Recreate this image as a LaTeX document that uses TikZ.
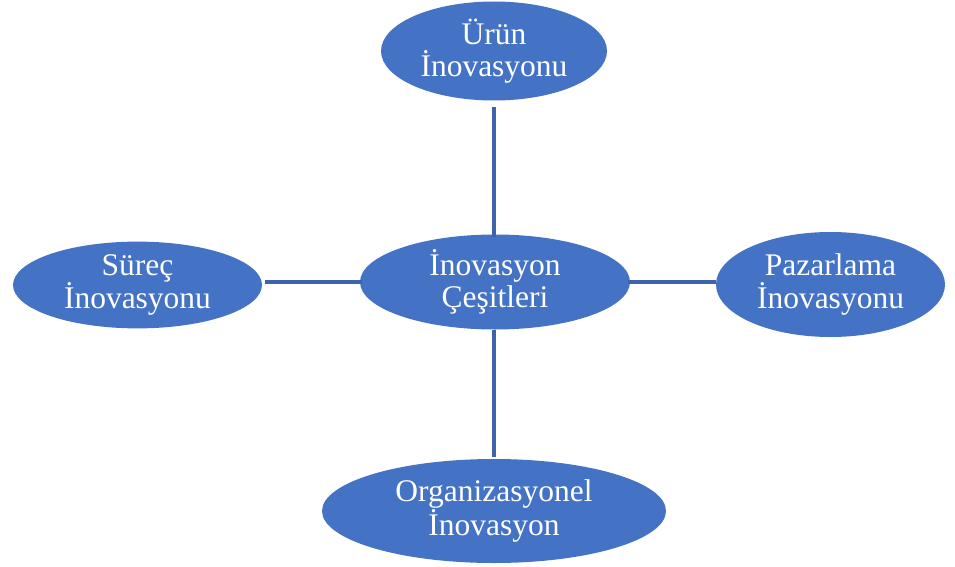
\documentclass[tikz,border=0pt]{standalone}
\usepackage{fontspec}
\setmainfont{Liberation Serif}
\usetikzlibrary{shapes.geometric}
\definecolor{ellfill}{HTML}{4472C4}
\definecolor{linkcol}{HTML}{3E63AC}
\begin{document}
\begin{tikzpicture}[x=1pt,y=-1pt,
  ell/.style={ellipse, fill=ellfill, draw=none, inner sep=0pt, text=white,
    align=center, font=\fontsize{31.5}{32.5}\selectfont},
  link/.style={draw=linkcol, line width=3.2pt}]
\useasboundingbox (0,0) rectangle (955,567);
\node[ell, minimum width=270pt, minimum height=95pt] (c) at (495,282) {İnovasyon\\Çeşitleri};
\node[ell, minimum width=226pt, minimum height=99pt] (t) at (494,51) {Ürün\\İnovasyonu};
\node[ell, minimum width=249pt, minimum height=74pt] (l) at (137.5,285) {Süreç\\İnovasyonu};
\node[ell, minimum width=229pt, minimum height=105pt] (r) at (830.5,284.5) {Pazarlama\\İnovasyonu};
\node[ell, minimum width=344pt, minimum height=104pt] (b) at (494,511) {Organizasyonel\\İnovasyon};
\draw[link, shorten <=-3pt, shorten >=6pt] (c.north -| t.south) -- (t.south);
\draw[link, shorten >=2pt] (c.south -| b.north) -- (b.north);
\draw[link, shorten <=-2pt, shorten >=3pt] (c.west) -- (l.east |- c.west);
\draw[link, shorten <=-2pt] (c.east) -- (r.west |- c.east);
\end{tikzpicture}
\end{document}
